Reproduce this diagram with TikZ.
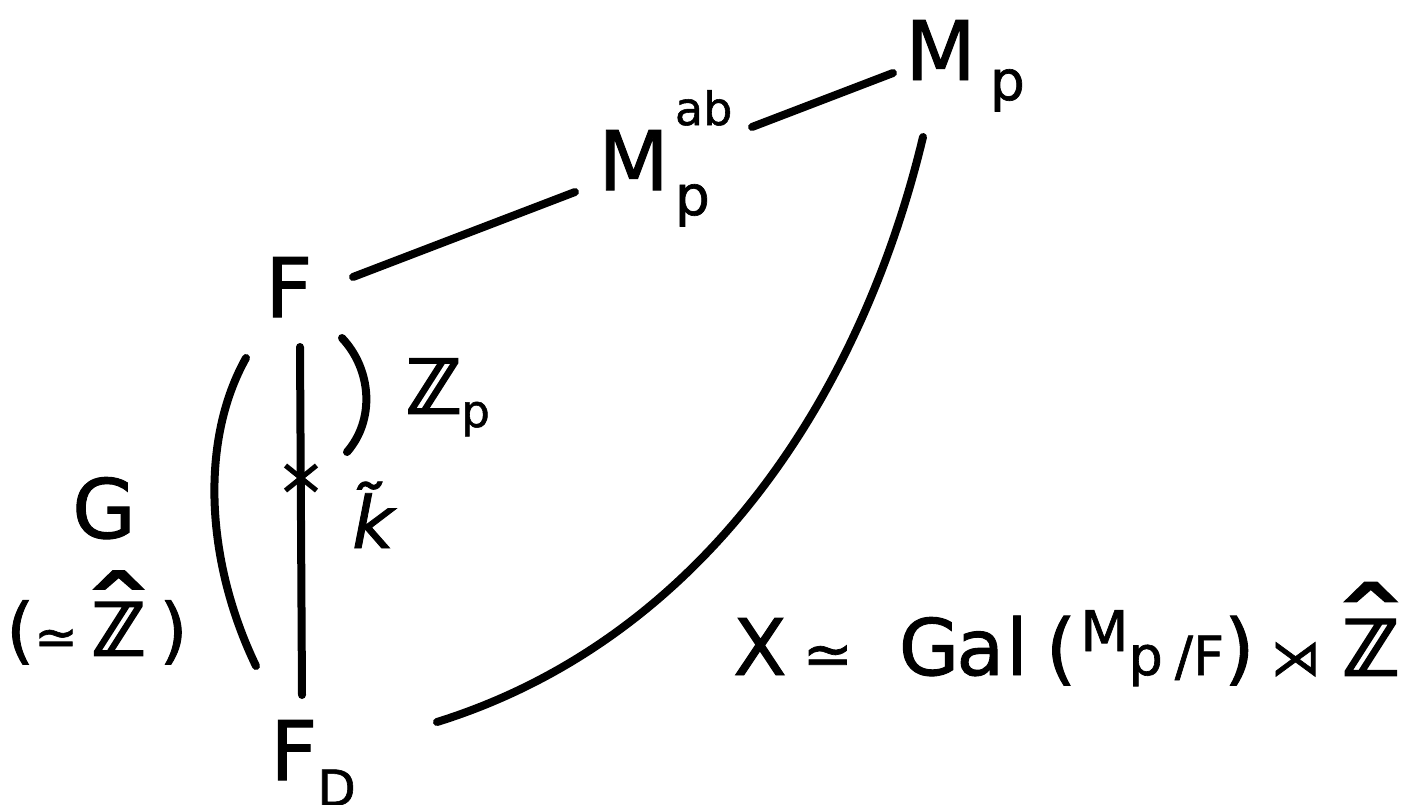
\documentclass[tikz,border=0pt]{standalone}
\usepackage{fontspec}
\usepackage{graphicx}
\setmainfont{DejaVu Sans}[FakeBold=1.2]
\newfontfamily\zfont{DejaVu Sans}[FakeBold=3.5]
\usetikzlibrary{calc,shapes.misc}
\newcommand{\myZ}{{\zfont ℤ}}
\newcommand{\myzhat}[1]{\ooalign{\myZ\cr\hidewidth\raisebox{#1}{\scalebox{2.2}[1.4]{ˆ}}\hidewidth\cr}}
\begin{document}
\begin{tikzpicture}[x=1pt,y=-1pt,
  lab/.style={inner sep=0pt, anchor=base west, font=\fontsize{82}{90}\selectfont},
  edge/.style={line width=8pt, line cap=round},
  brace/.style={line width=8pt, line cap=round}]
\useasboundingbox (0,0) rectangle (1417,804);

% nodes
\node[lab] (Mp) at (905,80) {M\hspace{14pt}\raisebox{-20pt}{\fontsize{55}{60}\selectfont p}};
\node[lab] (Mab) at (598,190) {M\rlap{\hspace{6pt}\raisebox{65pt}{\fontsize{46}{50}\selectfont ab}}\raisebox{-25pt}{\fontsize{55}{60}\selectfont\hspace{6pt}p}};
\node[lab] (F) at (265,317) {F};
\node[lab] (FD) at (270,780) {F\raisebox{-26pt}{\fontsize{50}{50}\selectfont D}};
\node[lab, font=\fontsize{74}{80}\selectfont] (Zp) at (406,413) {\myZ\raisebox{-14pt}{\fontsize{45}{50}\selectfont p}};
\node[lab, font=\fontsize{72}{80}\selectfont\itshape] (kt) at (352,548) {k̃};
\node[lab] (G) at (72,538) {G};
\node[lab, font=\fontsize{72}{80}\selectfont] (Gz) at (6,655) {({\fontsize{52}{60}\selectfont ≃}\hspace{14pt}\myzhat{0.05em}\hspace{14pt})};
\node[lab, font=\fontsize{78}{90}\selectfont] (X) at (733,675) {X\hspace{16pt}{\fontsize{60}{60}\selectfont ≃}\hspace{46pt}G\hspace{-3pt}a\hspace{2pt}l\hspace{18pt}(\hspace{4pt}\raisebox{24pt}{\fontsize{56}{60}\selectfont M}{\fontsize{54}{55}\selectfont p\hspace{12pt}/F})\hspace{16pt}{\fontsize{50}{60}\selectfont ⋊}\hspace{22pt}{\fontsize{76}{90}\selectfont\myzhat{0.1em}}};
\node[cross out, draw, line width=5pt, minimum width=26pt, minimum height=20pt, inner sep=0pt] (star) at (301,478) {};

% connectors
\draw[edge] ($(F.base west)+(88,-40)$) -- ($(Mab.base west)+(-23,2)$);
\draw[edge] ($(Mab.base west)+(154,-63)$) -- ($(Mp.base west)+(-12,-7)$);
\draw[edge] ($(F.base west)+(35,30)$) -- ($(FD.base west)+(32,-85)$);
\draw[edge] ($(FD.base west)+(167,-58)$) .. controls (700,640) and (860,400) .. ($(Mp.base west)+(18,57)$);

% braces
\draw[brace] (246,358) .. controls (200,440) and (205,560) .. (256,666);
\draw[brace] (342,338) .. controls (372,370) and (375,420) .. (347,452);
\end{tikzpicture}
\end{document}
